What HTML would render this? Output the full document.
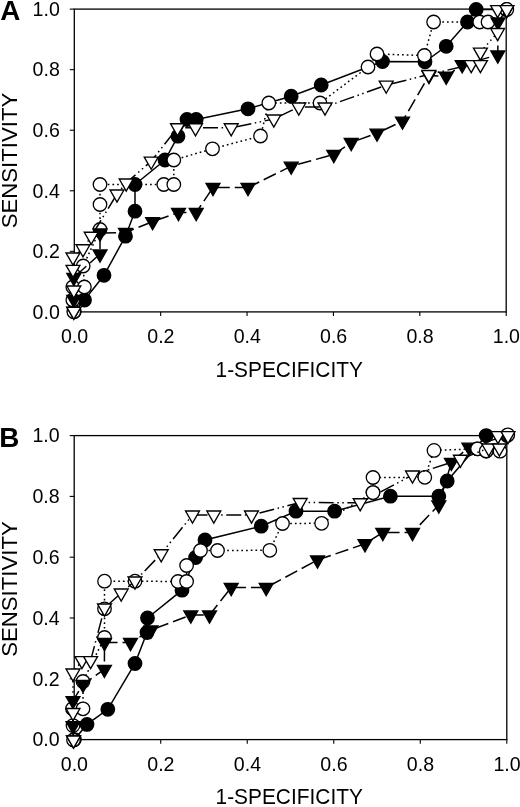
<!DOCTYPE html>
<html><head><meta charset="utf-8"><title>ROC curves</title>
<style>
html,body{margin:0;padding:0;background:#fff;}
svg{display:block;will-change:transform;}
text{font-family:"Liberation Sans",sans-serif;fill:#000;}
.t{font-size:19.6px;}
.xl{font-size:22px;}
.yl{font-size:22.2px;}
.pl{font-size:27.3px;font-weight:bold;}
</style></head><body>
<svg width="520" height="807" viewBox="0 0 520 807">
<rect width="520" height="807" fill="#fff"/>
<rect x="74.3" y="9.1" width="431.90" height="302.80" fill="none" stroke="#000" stroke-width="1.3"/>
<line x1="74.30" y1="311.9" x2="74.30" y2="316.09999999999997" stroke="#000" stroke-width="1.1"/>
<line x1="69.8" y1="311.90" x2="74.3" y2="311.90" stroke="#000" stroke-width="1.1"/>
<text x="74.50" y="342.60" text-anchor="middle" class="t">0.0</text>
<text x="59.80" y="318.70" text-anchor="end" class="t">0.0</text>
<line x1="160.68" y1="311.9" x2="160.68" y2="316.09999999999997" stroke="#000" stroke-width="1.1"/>
<line x1="69.8" y1="251.34" x2="74.3" y2="251.34" stroke="#000" stroke-width="1.1"/>
<text x="160.88" y="342.60" text-anchor="middle" class="t">0.2</text>
<text x="59.80" y="258.14" text-anchor="end" class="t">0.2</text>
<line x1="247.06" y1="311.9" x2="247.06" y2="316.09999999999997" stroke="#000" stroke-width="1.1"/>
<line x1="69.8" y1="190.78" x2="74.3" y2="190.78" stroke="#000" stroke-width="1.1"/>
<text x="247.26" y="342.60" text-anchor="middle" class="t">0.4</text>
<text x="59.80" y="197.58" text-anchor="end" class="t">0.4</text>
<line x1="333.44" y1="311.9" x2="333.44" y2="316.09999999999997" stroke="#000" stroke-width="1.1"/>
<line x1="69.8" y1="130.22" x2="74.3" y2="130.22" stroke="#000" stroke-width="1.1"/>
<text x="333.64" y="342.60" text-anchor="middle" class="t">0.6</text>
<text x="59.80" y="137.02" text-anchor="end" class="t">0.6</text>
<line x1="419.82" y1="311.9" x2="419.82" y2="316.09999999999997" stroke="#000" stroke-width="1.1"/>
<line x1="69.8" y1="69.66" x2="74.3" y2="69.66" stroke="#000" stroke-width="1.1"/>
<text x="420.02" y="342.60" text-anchor="middle" class="t">0.8</text>
<text x="59.80" y="76.46" text-anchor="end" class="t">0.8</text>
<line x1="506.20" y1="311.9" x2="506.20" y2="316.09999999999997" stroke="#000" stroke-width="1.1"/>
<line x1="69.8" y1="9.10" x2="74.3" y2="9.10" stroke="#000" stroke-width="1.1"/>
<text x="506.40" y="342.60" text-anchor="middle" class="t">1.0</text>
<text x="59.80" y="15.90" text-anchor="end" class="t">1.0</text>
<text transform="translate(289.2,376.70) scale(0.95,1)" text-anchor="middle" class="xl">1-SPECIFICITY</text>
<text transform="translate(16.7,160.50) rotate(-90)" text-anchor="middle" class="yl">SENSITIVITY</text>
<text transform="translate(0.2,19.90) scale(1.02,1)" class="pl">A</text>
<polyline points="74.30,311.60 84.50,300.00 104.00,275.30 125.50,236.20 135.00,211.20 135.00,184.50 165.00,160.00 178.00,136.20 187.00,119.50 196.20,119.50 248.00,108.80 291.20,96.20 321.20,85.00 382.50,61.50 425.00,61.80 446.20,46.30 467.50,22.00 476.20,9.40 506.50,9.40" fill="none" stroke="#000" stroke-width="1.5"/>
<circle cx="74.30" cy="311.60" r="6.75" fill="#000" stroke="#000" stroke-width="1.3"/>
<circle cx="84.50" cy="300.00" r="6.75" fill="#000" stroke="#000" stroke-width="1.3"/>
<circle cx="104.00" cy="275.30" r="6.75" fill="#000" stroke="#000" stroke-width="1.3"/>
<circle cx="125.50" cy="236.20" r="6.75" fill="#000" stroke="#000" stroke-width="1.3"/>
<circle cx="135.00" cy="211.20" r="6.75" fill="#000" stroke="#000" stroke-width="1.3"/>
<circle cx="135.00" cy="184.50" r="6.75" fill="#000" stroke="#000" stroke-width="1.3"/>
<circle cx="165.00" cy="160.00" r="6.75" fill="#000" stroke="#000" stroke-width="1.3"/>
<circle cx="178.00" cy="136.20" r="6.75" fill="#000" stroke="#000" stroke-width="1.3"/>
<circle cx="187.00" cy="119.50" r="6.75" fill="#000" stroke="#000" stroke-width="1.3"/>
<circle cx="196.20" cy="119.50" r="6.75" fill="#000" stroke="#000" stroke-width="1.3"/>
<circle cx="248.00" cy="108.80" r="6.75" fill="#000" stroke="#000" stroke-width="1.3"/>
<circle cx="291.20" cy="96.20" r="6.75" fill="#000" stroke="#000" stroke-width="1.3"/>
<circle cx="321.20" cy="85.00" r="6.75" fill="#000" stroke="#000" stroke-width="1.3"/>
<circle cx="382.50" cy="61.50" r="6.75" fill="#000" stroke="#000" stroke-width="1.3"/>
<circle cx="425.00" cy="61.80" r="6.75" fill="#000" stroke="#000" stroke-width="1.3"/>
<circle cx="446.20" cy="46.30" r="6.75" fill="#000" stroke="#000" stroke-width="1.3"/>
<circle cx="467.50" cy="22.00" r="6.75" fill="#000" stroke="#000" stroke-width="1.3"/>
<circle cx="476.20" cy="9.40" r="6.75" fill="#000" stroke="#000" stroke-width="1.3"/>
<circle cx="506.50" cy="9.40" r="6.75" fill="#000" stroke="#000" stroke-width="1.3"/>
<polyline points="73.80,311.80 72.80,300.00 72.80,287.00 84.40,287.00 83.20,266.00 100.00,229.50 100.00,204.50 100.00,184.50 163.80,184.50 173.80,184.50 173.80,160.00 212.50,148.80 260.50,136.00 268.80,103.00 320.00,103.00 368.00,67.00 377.00,54.00 424.40,55.50 433.60,22.00 479.70,22.00 488.00,22.00 506.80,9.40" fill="none" stroke="#000" stroke-width="1.5" stroke-dasharray="1.7 3" stroke-dashoffset="0"/>
<circle cx="73.80" cy="311.80" r="6.75" fill="#fff" stroke="#000" stroke-width="1.3"/>
<circle cx="72.80" cy="300.00" r="6.75" fill="#fff" stroke="#000" stroke-width="1.3"/>
<circle cx="72.80" cy="287.00" r="6.75" fill="#fff" stroke="#000" stroke-width="1.3"/>
<circle cx="84.40" cy="287.00" r="6.75" fill="#fff" stroke="#000" stroke-width="1.3"/>
<circle cx="83.20" cy="266.00" r="6.75" fill="#fff" stroke="#000" stroke-width="1.3"/>
<circle cx="100.00" cy="229.50" r="6.75" fill="#fff" stroke="#000" stroke-width="1.3"/>
<circle cx="100.00" cy="204.50" r="6.75" fill="#fff" stroke="#000" stroke-width="1.3"/>
<circle cx="100.00" cy="184.50" r="6.75" fill="#fff" stroke="#000" stroke-width="1.3"/>
<circle cx="163.80" cy="184.50" r="6.75" fill="#fff" stroke="#000" stroke-width="1.3"/>
<circle cx="173.80" cy="184.50" r="6.75" fill="#fff" stroke="#000" stroke-width="1.3"/>
<circle cx="173.80" cy="160.00" r="6.75" fill="#fff" stroke="#000" stroke-width="1.3"/>
<circle cx="212.50" cy="148.80" r="6.75" fill="#fff" stroke="#000" stroke-width="1.3"/>
<circle cx="260.50" cy="136.00" r="6.75" fill="#fff" stroke="#000" stroke-width="1.3"/>
<circle cx="268.80" cy="103.00" r="6.75" fill="#fff" stroke="#000" stroke-width="1.3"/>
<circle cx="320.00" cy="103.00" r="6.75" fill="#fff" stroke="#000" stroke-width="1.3"/>
<circle cx="368.00" cy="67.00" r="6.75" fill="#fff" stroke="#000" stroke-width="1.3"/>
<circle cx="377.00" cy="54.00" r="6.75" fill="#fff" stroke="#000" stroke-width="1.3"/>
<circle cx="424.40" cy="55.50" r="6.75" fill="#fff" stroke="#000" stroke-width="1.3"/>
<circle cx="433.60" cy="22.00" r="6.75" fill="#fff" stroke="#000" stroke-width="1.3"/>
<circle cx="479.70" cy="22.00" r="6.75" fill="#fff" stroke="#000" stroke-width="1.3"/>
<circle cx="488.00" cy="22.00" r="6.75" fill="#fff" stroke="#000" stroke-width="1.3"/>
<circle cx="506.80" cy="9.40" r="6.75" fill="#fff" stroke="#000" stroke-width="1.3"/>
<polyline points="73.80,311.20 73.80,299.40 73.80,277.50 100.00,254.00 100.00,233.00 125.50,232.50 152.60,221.60 178.50,212.50 196.20,212.50 213.00,187.50" fill="none" stroke="#000" stroke-width="1.5" stroke-dasharray="13.5 5" stroke-dashoffset="0"/><polyline points="213.00,187.50 248.00,187.50" fill="none" stroke="#000" stroke-width="1.5" stroke-dasharray="13.5 5" stroke-dashoffset="15.25"/><polyline points="248.00,187.50 291.20,166.20" fill="none" stroke="#000" stroke-width="1.5" stroke-dasharray="13.5 5" stroke-dashoffset="1"/><polyline points="291.20,166.20 333.80,154.50" fill="none" stroke="#000" stroke-width="1.5" stroke-dasharray="13.5 5" stroke-dashoffset="11.3"/><polyline points="333.80,154.50 351.20,142.50" fill="none" stroke="#000" stroke-width="1.5" stroke-dasharray="13.5 5" stroke-dashoffset="0"/><polyline points="351.20,142.50 377.00,133.20" fill="none" stroke="#000" stroke-width="1.5" stroke-dasharray="13.5 5" stroke-dashoffset="11.5"/><polyline points="377.00,133.20 402.50,121.20" fill="none" stroke="#000" stroke-width="1.5" stroke-dasharray="13.5 5" stroke-dashoffset="11.5"/><polyline points="402.50,121.20 429.00,75.50 446.20,76.30 462.20,64.80 497.80,55.00 498.00,22.00 506.80,9.60" fill="none" stroke="#000" stroke-width="1.5" stroke-dasharray="13.5 5" stroke-dashoffset="6.8"/>
<polygon points="66.85,307.19 80.75,307.19 73.80,319.23" fill="#000" stroke="#000" stroke-width="1.35" stroke-linejoin="miter"/>
<polygon points="66.85,295.39 80.75,295.39 73.80,307.43" fill="#000" stroke="#000" stroke-width="1.35" stroke-linejoin="miter"/>
<polygon points="66.85,273.49 80.75,273.49 73.80,285.53" fill="#000" stroke="#000" stroke-width="1.35" stroke-linejoin="miter"/>
<polygon points="93.05,249.99 106.95,249.99 100.00,262.03" fill="#000" stroke="#000" stroke-width="1.35" stroke-linejoin="miter"/>
<polygon points="93.05,228.99 106.95,228.99 100.00,241.03" fill="#000" stroke="#000" stroke-width="1.35" stroke-linejoin="miter"/>
<polygon points="118.55,228.49 132.45,228.49 125.50,240.53" fill="#000" stroke="#000" stroke-width="1.35" stroke-linejoin="miter"/>
<polygon points="145.65,217.59 159.55,217.59 152.60,229.63" fill="#000" stroke="#000" stroke-width="1.35" stroke-linejoin="miter"/>
<polygon points="171.55,208.49 185.45,208.49 178.50,220.53" fill="#000" stroke="#000" stroke-width="1.35" stroke-linejoin="miter"/>
<polygon points="189.25,208.49 203.15,208.49 196.20,220.53" fill="#000" stroke="#000" stroke-width="1.35" stroke-linejoin="miter"/>
<polygon points="206.05,183.49 219.95,183.49 213.00,195.53" fill="#000" stroke="#000" stroke-width="1.35" stroke-linejoin="miter"/>
<polygon points="241.05,183.49 254.95,183.49 248.00,195.53" fill="#000" stroke="#000" stroke-width="1.35" stroke-linejoin="miter"/>
<polygon points="284.25,162.19 298.15,162.19 291.20,174.23" fill="#000" stroke="#000" stroke-width="1.35" stroke-linejoin="miter"/>
<polygon points="326.85,150.49 340.75,150.49 333.80,162.53" fill="#000" stroke="#000" stroke-width="1.35" stroke-linejoin="miter"/>
<polygon points="344.25,138.49 358.15,138.49 351.20,150.53" fill="#000" stroke="#000" stroke-width="1.35" stroke-linejoin="miter"/>
<polygon points="370.05,129.19 383.95,129.19 377.00,141.23" fill="#000" stroke="#000" stroke-width="1.35" stroke-linejoin="miter"/>
<polygon points="395.55,117.19 409.45,117.19 402.50,129.23" fill="#000" stroke="#000" stroke-width="1.35" stroke-linejoin="miter"/>
<polygon points="422.05,71.49 435.95,71.49 429.00,83.53" fill="#000" stroke="#000" stroke-width="1.35" stroke-linejoin="miter"/>
<polygon points="439.25,72.29 453.15,72.29 446.20,84.33" fill="#000" stroke="#000" stroke-width="1.35" stroke-linejoin="miter"/>
<polygon points="455.25,60.79 469.15,60.79 462.20,72.83" fill="#000" stroke="#000" stroke-width="1.35" stroke-linejoin="miter"/>
<polygon points="490.85,50.99 504.75,50.99 497.80,63.03" fill="#000" stroke="#000" stroke-width="1.35" stroke-linejoin="miter"/>
<polygon points="491.05,17.99 504.95,17.99 498.00,30.03" fill="#000" stroke="#000" stroke-width="1.35" stroke-linejoin="miter"/>
<polygon points="499.85,5.59 513.75,5.59 506.80,17.63" fill="#000" stroke="#000" stroke-width="1.35" stroke-linejoin="miter"/>
<polyline points="73.80,311.40 73.80,290.00 73.00,269.40 73.00,257.00 83.00,248.80 91.20,236.30 117.00,194.00 126.20,183.00 151.20,161.20 177.50,127.80 195.50,127.80" fill="none" stroke="#000" stroke-width="1.5" stroke-dasharray="15 3.6 1.5 3.5 1.5 3.6" stroke-dashoffset="0"/><polyline points="195.50,127.80 231.20,127.80" fill="none" stroke="#000" stroke-width="1.5" stroke-dasharray="15 3.6 1.5 3.5 1.5 3.6" stroke-dashoffset="21.2"/><polyline points="231.20,127.80 273.80,119.00" fill="none" stroke="#000" stroke-width="1.5" stroke-dasharray="15 3.6 1.5 3.5 1.5 3.6" stroke-dashoffset="23.2"/><polyline points="273.80,119.00 298.80,107.00" fill="none" stroke="#000" stroke-width="1.5" stroke-dasharray="15 3.6 1.5 3.5 1.5 3.6" stroke-dashoffset="22.7"/><polyline points="298.80,107.00 325.00,107.00" fill="none" stroke="#000" stroke-width="1.5" stroke-dasharray="15 3.6 1.5 3.5 1.5 3.6" stroke-dashoffset="22.7"/><polyline points="325.00,107.00 386.20,85.20" fill="none" stroke="#000" stroke-width="1.5" stroke-dasharray="15 3.6 1.5 3.5 1.5 3.6" stroke-dashoffset="12.8"/><polyline points="386.20,85.20 428.80,74.50 471.20,64.60 480.40,64.60 480.40,52.10" fill="none" stroke="#000" stroke-width="1.5" stroke-dasharray="15 3.6 1.5 3.5 1.5 3.6" stroke-dashoffset="23"/><polyline points="480.40,52.10 497.60,32.50 497.60,9.60 506.80,9.60" fill="none" stroke="#000" stroke-width="1.5" stroke-dasharray="15 3.6 1.5 3.5 1.5 3.6" stroke-dashoffset="8.5"/>
<polygon points="66.85,307.39 80.75,307.39 73.80,319.43" fill="#fff" stroke="#000" stroke-width="1.35" stroke-linejoin="miter"/>
<polygon points="66.85,285.99 80.75,285.99 73.80,298.03" fill="#fff" stroke="#000" stroke-width="1.35" stroke-linejoin="miter"/>
<polygon points="66.05,265.39 79.95,265.39 73.00,277.43" fill="#fff" stroke="#000" stroke-width="1.35" stroke-linejoin="miter"/>
<polygon points="66.05,252.99 79.95,252.99 73.00,265.03" fill="#fff" stroke="#000" stroke-width="1.35" stroke-linejoin="miter"/>
<polygon points="76.05,244.79 89.95,244.79 83.00,256.83" fill="#fff" stroke="#000" stroke-width="1.35" stroke-linejoin="miter"/>
<polygon points="84.25,232.29 98.15,232.29 91.20,244.33" fill="#fff" stroke="#000" stroke-width="1.35" stroke-linejoin="miter"/>
<polygon points="110.05,189.99 123.95,189.99 117.00,202.03" fill="#fff" stroke="#000" stroke-width="1.35" stroke-linejoin="miter"/>
<polygon points="119.25,178.99 133.15,178.99 126.20,191.03" fill="#fff" stroke="#000" stroke-width="1.35" stroke-linejoin="miter"/>
<polygon points="144.25,157.19 158.15,157.19 151.20,169.23" fill="#fff" stroke="#000" stroke-width="1.35" stroke-linejoin="miter"/>
<polygon points="170.55,123.79 184.45,123.79 177.50,135.83" fill="#fff" stroke="#000" stroke-width="1.35" stroke-linejoin="miter"/>
<polygon points="188.55,123.79 202.45,123.79 195.50,135.83" fill="#fff" stroke="#000" stroke-width="1.35" stroke-linejoin="miter"/>
<polygon points="224.25,123.79 238.15,123.79 231.20,135.83" fill="#fff" stroke="#000" stroke-width="1.35" stroke-linejoin="miter"/>
<polygon points="266.85,114.99 280.75,114.99 273.80,127.03" fill="#fff" stroke="#000" stroke-width="1.35" stroke-linejoin="miter"/>
<polygon points="291.85,102.99 305.75,102.99 298.80,115.03" fill="#fff" stroke="#000" stroke-width="1.35" stroke-linejoin="miter"/>
<polygon points="318.05,102.99 331.95,102.99 325.00,115.03" fill="#fff" stroke="#000" stroke-width="1.35" stroke-linejoin="miter"/>
<polygon points="379.25,81.19 393.15,81.19 386.20,93.23" fill="#fff" stroke="#000" stroke-width="1.35" stroke-linejoin="miter"/>
<polygon points="421.85,70.49 435.75,70.49 428.80,82.53" fill="#fff" stroke="#000" stroke-width="1.35" stroke-linejoin="miter"/>
<polygon points="464.25,60.59 478.15,60.59 471.20,72.63" fill="#fff" stroke="#000" stroke-width="1.35" stroke-linejoin="miter"/>
<polygon points="473.45,60.59 487.35,60.59 480.40,72.63" fill="#fff" stroke="#000" stroke-width="1.35" stroke-linejoin="miter"/>
<polygon points="473.45,48.09 487.35,48.09 480.40,60.13" fill="#fff" stroke="#000" stroke-width="1.35" stroke-linejoin="miter"/>
<polygon points="490.65,28.49 504.55,28.49 497.60,40.53" fill="#fff" stroke="#000" stroke-width="1.35" stroke-linejoin="miter"/>
<polygon points="490.65,5.59 504.55,5.59 497.60,17.63" fill="#fff" stroke="#000" stroke-width="1.35" stroke-linejoin="miter"/>
<polygon points="499.85,5.59 513.75,5.59 506.80,17.63" fill="#fff" stroke="#000" stroke-width="1.35" stroke-linejoin="miter"/>
<rect x="74.2" y="435.6" width="432.60" height="304.00" fill="none" stroke="#000" stroke-width="1.3"/>
<line x1="74.20" y1="739.6" x2="74.20" y2="743.8000000000001" stroke="#000" stroke-width="1.1"/>
<line x1="69.7" y1="739.60" x2="74.2" y2="739.60" stroke="#000" stroke-width="1.1"/>
<text x="74.40" y="770.60" text-anchor="middle" class="t">0.0</text>
<text x="59.70" y="746.40" text-anchor="end" class="t">0.0</text>
<line x1="160.72" y1="739.6" x2="160.72" y2="743.8000000000001" stroke="#000" stroke-width="1.1"/>
<line x1="69.7" y1="678.80" x2="74.2" y2="678.80" stroke="#000" stroke-width="1.1"/>
<text x="160.92" y="770.60" text-anchor="middle" class="t">0.2</text>
<text x="59.70" y="685.60" text-anchor="end" class="t">0.2</text>
<line x1="247.24" y1="739.6" x2="247.24" y2="743.8000000000001" stroke="#000" stroke-width="1.1"/>
<line x1="69.7" y1="618.00" x2="74.2" y2="618.00" stroke="#000" stroke-width="1.1"/>
<text x="247.44" y="770.60" text-anchor="middle" class="t">0.4</text>
<text x="59.70" y="624.80" text-anchor="end" class="t">0.4</text>
<line x1="333.76" y1="739.6" x2="333.76" y2="743.8000000000001" stroke="#000" stroke-width="1.1"/>
<line x1="69.7" y1="557.20" x2="74.2" y2="557.20" stroke="#000" stroke-width="1.1"/>
<text x="333.96" y="770.60" text-anchor="middle" class="t">0.6</text>
<text x="59.70" y="564.00" text-anchor="end" class="t">0.6</text>
<line x1="420.28" y1="739.6" x2="420.28" y2="743.8000000000001" stroke="#000" stroke-width="1.1"/>
<line x1="69.7" y1="496.40" x2="74.2" y2="496.40" stroke="#000" stroke-width="1.1"/>
<text x="420.48" y="770.60" text-anchor="middle" class="t">0.8</text>
<text x="59.70" y="503.20" text-anchor="end" class="t">0.8</text>
<line x1="506.80" y1="739.6" x2="506.80" y2="743.8000000000001" stroke="#000" stroke-width="1.1"/>
<line x1="69.7" y1="435.60" x2="74.2" y2="435.60" stroke="#000" stroke-width="1.1"/>
<text x="507.00" y="770.60" text-anchor="middle" class="t">1.0</text>
<text x="59.70" y="442.40" text-anchor="end" class="t">1.0</text>
<text transform="translate(289.2,803.80) scale(0.95,1)" text-anchor="middle" class="xl">1-SPECIFICITY</text>
<text transform="translate(16.7,589.00) rotate(-90)" text-anchor="middle" class="yl">SENSITIVITY</text>
<text transform="translate(-0.8,446.80) scale(1.02,1)" class="pl">B</text>
<polyline points="74.40,739.60 87.00,724.40 107.80,709.30 135.00,663.50 147.00,632.50 147.50,618.00 182.00,590.20 195.60,557.50 205.00,540.00 261.20,526.20 296.00,511.20 334.60,511.20 390.40,496.20 438.80,496.20 447.20,481.00 486.20,435.60 507.20,435.60" fill="none" stroke="#000" stroke-width="1.5"/>
<circle cx="74.40" cy="739.60" r="6.75" fill="#000" stroke="#000" stroke-width="1.3"/>
<circle cx="87.00" cy="724.40" r="6.75" fill="#000" stroke="#000" stroke-width="1.3"/>
<circle cx="107.80" cy="709.30" r="6.75" fill="#000" stroke="#000" stroke-width="1.3"/>
<circle cx="135.00" cy="663.50" r="6.75" fill="#000" stroke="#000" stroke-width="1.3"/>
<circle cx="147.00" cy="632.50" r="6.75" fill="#000" stroke="#000" stroke-width="1.3"/>
<circle cx="147.50" cy="618.00" r="6.75" fill="#000" stroke="#000" stroke-width="1.3"/>
<circle cx="182.00" cy="590.20" r="6.75" fill="#000" stroke="#000" stroke-width="1.3"/>
<circle cx="195.60" cy="557.50" r="6.75" fill="#000" stroke="#000" stroke-width="1.3"/>
<circle cx="205.00" cy="540.00" r="6.75" fill="#000" stroke="#000" stroke-width="1.3"/>
<circle cx="261.20" cy="526.20" r="6.75" fill="#000" stroke="#000" stroke-width="1.3"/>
<circle cx="296.00" cy="511.20" r="6.75" fill="#000" stroke="#000" stroke-width="1.3"/>
<circle cx="334.60" cy="511.20" r="6.75" fill="#000" stroke="#000" stroke-width="1.3"/>
<circle cx="390.40" cy="496.20" r="6.75" fill="#000" stroke="#000" stroke-width="1.3"/>
<circle cx="438.80" cy="496.20" r="6.75" fill="#000" stroke="#000" stroke-width="1.3"/>
<circle cx="447.20" cy="481.00" r="6.75" fill="#000" stroke="#000" stroke-width="1.3"/>
<circle cx="486.20" cy="435.60" r="6.75" fill="#000" stroke="#000" stroke-width="1.3"/>
<circle cx="507.20" cy="435.60" r="6.75" fill="#000" stroke="#000" stroke-width="1.3"/>
<polyline points="73.50,740.00 73.00,725.60 72.50,708.80 83.00,708.80 83.00,681.50 104.50,637.50 104.50,608.80 104.50,581.20 135.00,581.20 178.00,581.50 186.60,581.50 186.60,565.50 200.50,550.50 217.50,550.50 269.80,550.30 282.50,523.50 321.60,523.30 373.00,492.60 373.00,477.50 424.80,477.30 434.00,450.40 477.50,448.80 486.20,451.00 500.00,451.20 507.80,434.80" fill="none" stroke="#000" stroke-width="1.5" stroke-dasharray="1.7 3" stroke-dashoffset="0"/>
<circle cx="73.50" cy="740.00" r="6.75" fill="#fff" stroke="#000" stroke-width="1.3"/>
<circle cx="73.00" cy="725.60" r="6.75" fill="#fff" stroke="#000" stroke-width="1.3"/>
<circle cx="72.50" cy="708.80" r="6.75" fill="#fff" stroke="#000" stroke-width="1.3"/>
<circle cx="83.00" cy="708.80" r="6.75" fill="#fff" stroke="#000" stroke-width="1.3"/>
<circle cx="83.00" cy="681.50" r="6.75" fill="#fff" stroke="#000" stroke-width="1.3"/>
<circle cx="104.50" cy="637.50" r="6.75" fill="#fff" stroke="#000" stroke-width="1.3"/>
<circle cx="104.50" cy="608.80" r="6.75" fill="#fff" stroke="#000" stroke-width="1.3"/>
<circle cx="104.50" cy="581.20" r="6.75" fill="#fff" stroke="#000" stroke-width="1.3"/>
<circle cx="135.00" cy="581.20" r="6.75" fill="#fff" stroke="#000" stroke-width="1.3"/>
<circle cx="178.00" cy="581.50" r="6.75" fill="#fff" stroke="#000" stroke-width="1.3"/>
<circle cx="186.60" cy="581.50" r="6.75" fill="#fff" stroke="#000" stroke-width="1.3"/>
<circle cx="186.60" cy="565.50" r="6.75" fill="#fff" stroke="#000" stroke-width="1.3"/>
<circle cx="200.50" cy="550.50" r="6.75" fill="#fff" stroke="#000" stroke-width="1.3"/>
<circle cx="217.50" cy="550.50" r="6.75" fill="#fff" stroke="#000" stroke-width="1.3"/>
<circle cx="269.80" cy="550.30" r="6.75" fill="#fff" stroke="#000" stroke-width="1.3"/>
<circle cx="282.50" cy="523.50" r="6.75" fill="#fff" stroke="#000" stroke-width="1.3"/>
<circle cx="321.60" cy="523.30" r="6.75" fill="#fff" stroke="#000" stroke-width="1.3"/>
<circle cx="373.00" cy="492.60" r="6.75" fill="#fff" stroke="#000" stroke-width="1.3"/>
<circle cx="373.00" cy="477.50" r="6.75" fill="#fff" stroke="#000" stroke-width="1.3"/>
<circle cx="424.80" cy="477.30" r="6.75" fill="#fff" stroke="#000" stroke-width="1.3"/>
<circle cx="434.00" cy="450.40" r="6.75" fill="#fff" stroke="#000" stroke-width="1.3"/>
<circle cx="477.50" cy="448.80" r="6.75" fill="#fff" stroke="#000" stroke-width="1.3"/>
<circle cx="486.20" cy="451.00" r="6.75" fill="#fff" stroke="#000" stroke-width="1.3"/>
<circle cx="500.00" cy="451.20" r="6.75" fill="#fff" stroke="#000" stroke-width="1.3"/>
<circle cx="507.80" cy="434.80" r="6.75" fill="#fff" stroke="#000" stroke-width="1.3"/>
<polyline points="73.50,740.00 73.00,725.60 73.00,700.60 83.00,684.40 104.40,669.40 104.50,642.50 130.50,642.50 151.00,630.00 190.80,615.00 209.50,615.00 231.20,587.50 266.20,587.50 317.50,560.00 365.00,543.80 382.80,532.50 412.50,532.50 438.80,505.00 451.40,462.40 468.90,447.20 507.00,435.60" fill="none" stroke="#000" stroke-width="1.5" stroke-dasharray="13.5 5" stroke-dashoffset="0"/>
<polygon points="66.55,735.99 80.45,735.99 73.50,748.03" fill="#000" stroke="#000" stroke-width="1.35" stroke-linejoin="miter"/>
<polygon points="66.05,721.59 79.95,721.59 73.00,733.63" fill="#000" stroke="#000" stroke-width="1.35" stroke-linejoin="miter"/>
<polygon points="66.05,696.59 79.95,696.59 73.00,708.63" fill="#000" stroke="#000" stroke-width="1.35" stroke-linejoin="miter"/>
<polygon points="76.05,680.39 89.95,680.39 83.00,692.43" fill="#000" stroke="#000" stroke-width="1.35" stroke-linejoin="miter"/>
<polygon points="97.45,665.39 111.35,665.39 104.40,677.43" fill="#000" stroke="#000" stroke-width="1.35" stroke-linejoin="miter"/>
<polygon points="97.55,638.49 111.45,638.49 104.50,650.53" fill="#000" stroke="#000" stroke-width="1.35" stroke-linejoin="miter"/>
<polygon points="123.55,638.49 137.45,638.49 130.50,650.53" fill="#000" stroke="#000" stroke-width="1.35" stroke-linejoin="miter"/>
<polygon points="144.05,625.99 157.95,625.99 151.00,638.03" fill="#000" stroke="#000" stroke-width="1.35" stroke-linejoin="miter"/>
<polygon points="183.85,610.99 197.75,610.99 190.80,623.03" fill="#000" stroke="#000" stroke-width="1.35" stroke-linejoin="miter"/>
<polygon points="202.55,610.99 216.45,610.99 209.50,623.03" fill="#000" stroke="#000" stroke-width="1.35" stroke-linejoin="miter"/>
<polygon points="224.25,583.49 238.15,583.49 231.20,595.53" fill="#000" stroke="#000" stroke-width="1.35" stroke-linejoin="miter"/>
<polygon points="259.25,583.49 273.15,583.49 266.20,595.53" fill="#000" stroke="#000" stroke-width="1.35" stroke-linejoin="miter"/>
<polygon points="310.55,555.99 324.45,555.99 317.50,568.03" fill="#000" stroke="#000" stroke-width="1.35" stroke-linejoin="miter"/>
<polygon points="358.05,539.79 371.95,539.79 365.00,551.83" fill="#000" stroke="#000" stroke-width="1.35" stroke-linejoin="miter"/>
<polygon points="375.85,528.49 389.75,528.49 382.80,540.53" fill="#000" stroke="#000" stroke-width="1.35" stroke-linejoin="miter"/>
<polygon points="405.55,528.49 419.45,528.49 412.50,540.53" fill="#000" stroke="#000" stroke-width="1.35" stroke-linejoin="miter"/>
<polygon points="431.85,500.99 445.75,500.99 438.80,513.03" fill="#000" stroke="#000" stroke-width="1.35" stroke-linejoin="miter"/>
<polygon points="444.45,458.39 458.35,458.39 451.40,470.43" fill="#000" stroke="#000" stroke-width="1.35" stroke-linejoin="miter"/>
<polygon points="461.95,443.19 475.85,443.19 468.90,455.23" fill="#000" stroke="#000" stroke-width="1.35" stroke-linejoin="miter"/>
<polygon points="500.05,431.59 513.95,431.59 507.00,443.63" fill="#000" stroke="#000" stroke-width="1.35" stroke-linejoin="miter"/>
<circle cx="477.50" cy="448.80" r="6.75" fill="#fff" stroke="#000" stroke-width="1.3"/>
<circle cx="486.20" cy="451.00" r="6.75" fill="#fff" stroke="#000" stroke-width="1.3"/>
<polyline points="73.50,740.00 73.00,712.50 73.00,673.00 81.90,660.60 90.60,660.60" fill="none" stroke="#000" stroke-width="1.5" stroke-dasharray="15 3.6 1.5 3.5 1.5 3.6" stroke-dashoffset="0"/><polyline points="90.60,660.60 104.50,608.00 121.20,593.00 135.00,581.00" fill="none" stroke="#000" stroke-width="1.5" stroke-dasharray="15 3.6 1.5 3.5 1.5 3.6" stroke-dashoffset="0"/><polyline points="135.00,581.00 161.20,553.80" fill="none" stroke="#000" stroke-width="1.5" stroke-dasharray="15 3.6 1.5 3.5 1.5 3.6" stroke-dashoffset="14.7"/><polyline points="161.20,553.80 192.50,515.00" fill="none" stroke="#000" stroke-width="1.5" stroke-dasharray="15 3.6 1.5 3.5 1.5 3.6" stroke-dashoffset="9.7"/><polyline points="192.50,515.00 213.80,515.00" fill="none" stroke="#000" stroke-width="1.5" stroke-dasharray="15 3.6 1.5 3.5 1.5 3.6" stroke-dashoffset="0"/><polyline points="213.80,515.00 251.50,515.00" fill="none" stroke="#000" stroke-width="1.5" stroke-dasharray="15 3.6 1.5 3.5 1.5 3.6" stroke-dashoffset="16.25"/><polyline points="251.50,515.00 300.20,502.50" fill="none" stroke="#000" stroke-width="1.5" stroke-dasharray="15 3.6 1.5 3.5 1.5 3.6" stroke-dashoffset="20.4"/><polyline points="300.20,502.50 360.20,502.80" fill="none" stroke="#000" stroke-width="1.5" stroke-dasharray="15 3.6 1.5 3.5 1.5 3.6" stroke-dashoffset="10.2"/><polyline points="360.20,502.80 412.50,475.00 460.40,459.30 488.80,448.00 499.40,448.00 498.00,435.60 508.00,435.60" fill="none" stroke="#000" stroke-width="1.5" stroke-dasharray="15 3.6 1.5 3.5 1.5 3.6" stroke-dashoffset="5.5"/>
<polygon points="66.55,735.99 80.45,735.99 73.50,748.03" fill="#fff" stroke="#000" stroke-width="1.35" stroke-linejoin="miter"/>
<polygon points="66.05,708.49 79.95,708.49 73.00,720.53" fill="#fff" stroke="#000" stroke-width="1.35" stroke-linejoin="miter"/>
<polygon points="66.05,668.99 79.95,668.99 73.00,681.03" fill="#fff" stroke="#000" stroke-width="1.35" stroke-linejoin="miter"/>
<polygon points="74.95,656.59 88.85,656.59 81.90,668.63" fill="#fff" stroke="#000" stroke-width="1.35" stroke-linejoin="miter"/>
<polygon points="83.65,656.59 97.55,656.59 90.60,668.63" fill="#fff" stroke="#000" stroke-width="1.35" stroke-linejoin="miter"/>
<polygon points="97.55,603.99 111.45,603.99 104.50,616.03" fill="#fff" stroke="#000" stroke-width="1.35" stroke-linejoin="miter"/>
<polygon points="114.25,588.99 128.15,588.99 121.20,601.03" fill="#fff" stroke="#000" stroke-width="1.35" stroke-linejoin="miter"/>
<polygon points="128.05,576.99 141.95,576.99 135.00,589.03" fill="#fff" stroke="#000" stroke-width="1.35" stroke-linejoin="miter"/>
<polygon points="154.25,549.79 168.15,549.79 161.20,561.83" fill="#fff" stroke="#000" stroke-width="1.35" stroke-linejoin="miter"/>
<polygon points="185.55,510.99 199.45,510.99 192.50,523.03" fill="#fff" stroke="#000" stroke-width="1.35" stroke-linejoin="miter"/>
<polygon points="206.85,510.99 220.75,510.99 213.80,523.03" fill="#fff" stroke="#000" stroke-width="1.35" stroke-linejoin="miter"/>
<polygon points="244.55,510.99 258.45,510.99 251.50,523.03" fill="#fff" stroke="#000" stroke-width="1.35" stroke-linejoin="miter"/>
<polygon points="293.25,498.49 307.15,498.49 300.20,510.53" fill="#fff" stroke="#000" stroke-width="1.35" stroke-linejoin="miter"/>
<polygon points="353.25,498.79 367.15,498.79 360.20,510.83" fill="#fff" stroke="#000" stroke-width="1.35" stroke-linejoin="miter"/>
<polygon points="405.55,470.99 419.45,470.99 412.50,483.03" fill="#fff" stroke="#000" stroke-width="1.35" stroke-linejoin="miter"/>
<polygon points="453.45,455.29 467.35,455.29 460.40,467.33" fill="#fff" stroke="#000" stroke-width="1.35" stroke-linejoin="miter"/>
<polygon points="481.85,443.99 495.75,443.99 488.80,456.03" fill="#fff" stroke="#000" stroke-width="1.35" stroke-linejoin="miter"/>
<polygon points="492.45,443.99 506.35,443.99 499.40,456.03" fill="#fff" stroke="#000" stroke-width="1.35" stroke-linejoin="miter"/>
<polygon points="491.05,431.59 504.95,431.59 498.00,443.63" fill="#fff" stroke="#000" stroke-width="1.35" stroke-linejoin="miter"/>
<polygon points="501.05,431.59 514.95,431.59 508.00,443.63" fill="#fff" stroke="#000" stroke-width="1.35" stroke-linejoin="miter"/>
<circle cx="373.00" cy="492.60" r="6.75" fill="#fff" stroke="#000" stroke-width="1.3"/>
</svg>
</body></html>
